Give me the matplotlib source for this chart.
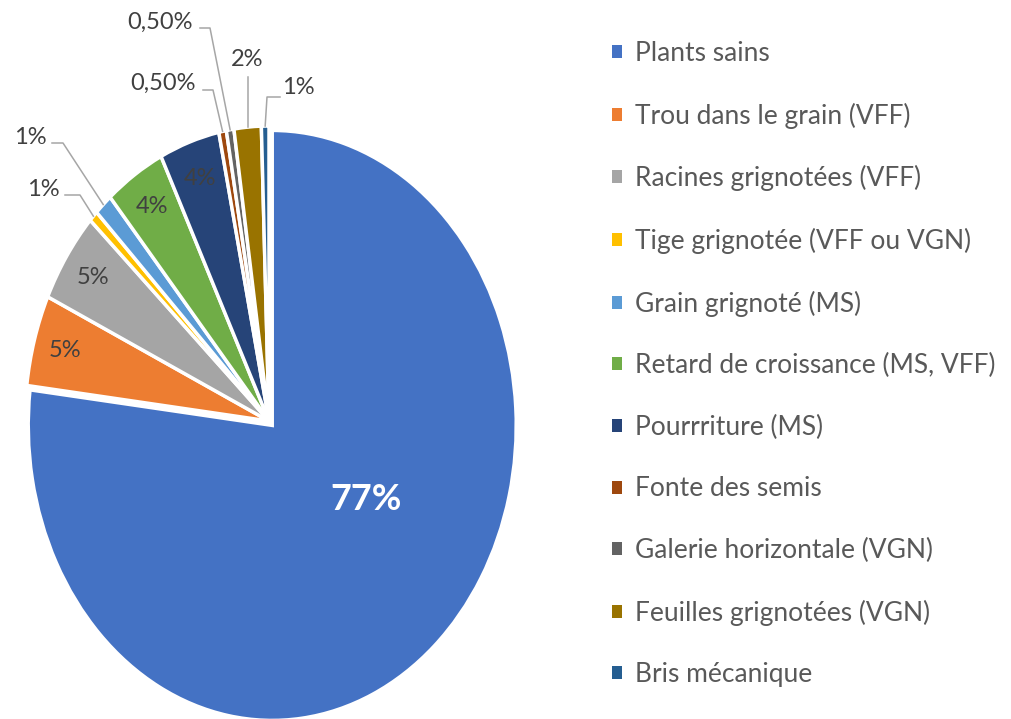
import numpy as np
import matplotlib
matplotlib.use('Agg')
import matplotlib.pyplot as plt

categories = ['Plants sains', 'Trou dans le grain (VFF)', 'Racines grignotées (VFF)',
              'Tige grignotée (VFF ou VGN)', 'Grain grignoté (MS)',
              'Retard de croissance (MS, VFF)', 'Pourrriture (MS)', 'Fonte des semis',
              'Galerie horizontale (VGN)', 'Feuilles grignotées (VGN)', 'Bris mécanique']
values = [77, 5, 5, 0.6, 1.2, 4, 4, 0.5, 0.5, 1.8, 0.5]
pct_labels = ['77%', '5%', '5%', '1%', '1%', '4%', '4%', '0,50%', '0,50%', '2%', '1%']
colors = ['#4472C4', '#ED7D31', '#A5A5A5', '#FFC000', '#5B9BD5', '#70AD47',
          '#264478', '#9E480E', '#636363', '#997300', '#255E91']

plt.rcParams['font.family'] = ['Lato', 'DejaVu Sans']

W, H = 1012, 719
fig = plt.figure(figsize=(W / 100, H / 100), dpi=100)
# pie is an ellipse in the original (stretched picture)
cx, cy, rx, ry = 269, 421, 244, 295
ax = fig.add_axes([(cx - rx) / W, (H - cy - ry) / H, 2 * rx / W, 2 * ry / H])

explode = [0.02] + [0] * (len(values) - 1)
wedges, _ = ax.pie(values, colors=colors, startangle=90, counterclock=False,
                   explode=explode, radius=1,
                   wedgeprops=dict(edgecolor='white', linewidth=2.5))
ax.set_aspect('auto')
ax.set_xlim(-1, 1)
ax.set_ylim(-1, 1)
ax.axis('off')


def px(x, y):
    return (x - cx) / rx, (cy - y) / ry


def mid(w):
    a = np.deg2rad((w.theta1 + w.theta2) / 2)
    return np.cos(a), np.sin(a)


txt_col = '#404040'
line_col = '#A6A6A6'
lab_fs = 17

# labels inside the slices
for i in [1, 2, 5, 6]:
    mx, my = mid(wedges[i])
    ax.text(0.87 * mx, 0.87 * my, pct_labels[i], ha='center', va='center',
            fontsize=lab_fs, color=txt_col)
lx, ly = px(366, 500)
ax.text(lx, ly, pct_labels[0], ha='center', va='center', fontsize=26,
        fontweight='bold', color='white')

# labels outside with leader lines: text pos, line start, elbow (pixels)
outside = {
    3: ((43, 190), (65, 195), (80, 195)),
    4: ((30, 137), (52, 143), (63, 143)),
    7: ((163, 83), (203, 90), (213, 90)),
    8: ((160, 22), (200, 28), (210, 28)),
    9: ((247, 60), (248, 77), (248, 77)),
    10: ((298, 88), (280, 97), (267, 97)),
}
for i, (tp, sp, ep) in outside.items():
    tx, ty = px(*tp)
    ax.text(tx, ty, pct_labels[i], ha='center', va='center', fontsize=lab_fs,
            color=txt_col)
    mx, my = mid(wedges[i])
    x0, y0 = px(*sp)
    x1, y1 = px(*ep)
    if i == 9:
        x1 = x0 = mx
    ax.plot([x0, x1, mx], [y0, y1, my], color=line_col, lw=1.1, clip_on=False)

leg = fig.legend(wedges, categories, loc='upper left',
                 bbox_to_anchor=(612 / W, 1 - 41 / H), frameon=False,
                 fontsize=19, handlelength=0.38, handleheight=0.38,
                 handletextpad=0.48, labelspacing=1.385, borderpad=0,
                 borderaxespad=0)
for t in leg.get_texts():
    t.set_color('#595959')
for h in leg.legend_handles:
    h.set_edgecolor('none')

fig.savefig('out.png', dpi=100)
